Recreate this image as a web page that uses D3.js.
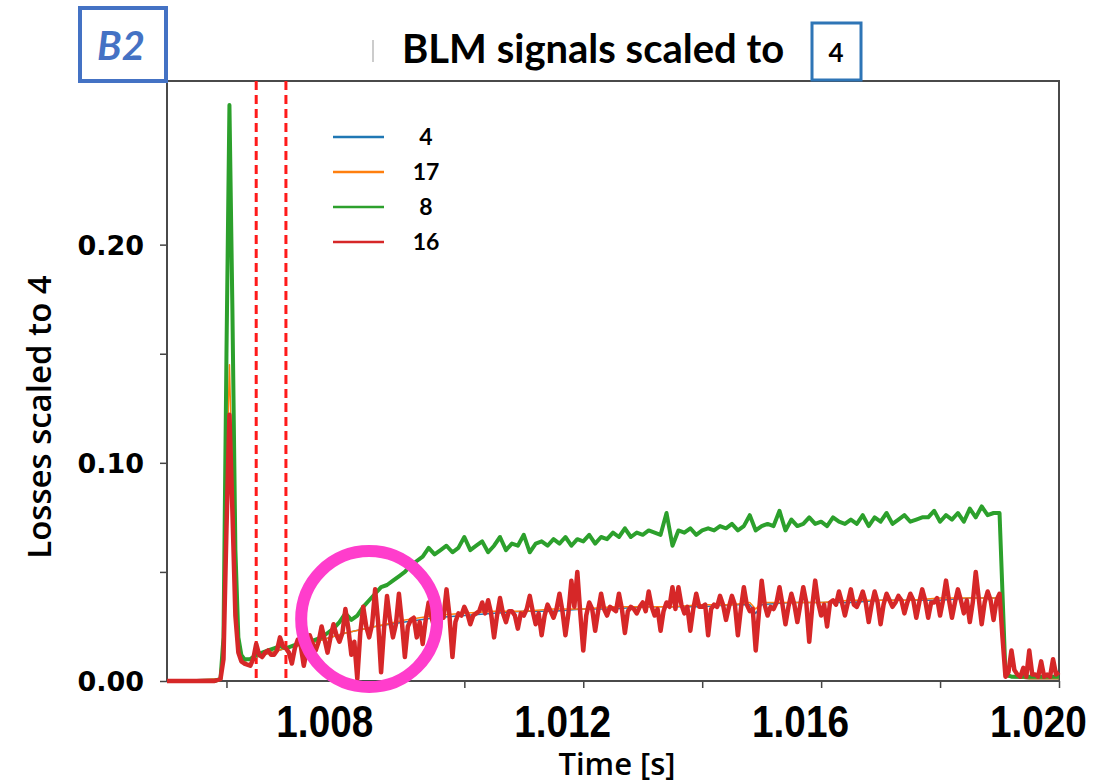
<!DOCTYPE html>
<html>
<head>
<meta charset="utf-8">
<script src="https://cdn.jsdelivr.net/npm/d3@7"></script>
<style>
  body { margin: 0; background: #fff; }
  svg { display: block; }
</style>
</head>
<body>
<div id="chart"></div>
<script>
// BLM signals, all scaled to monitor 4
const width = 1116;
const height = 784;

// monitor 8, sampled every 0.1 ms (finer around the injection spike)
const times = [
  1.0050, 1.0051, 1.0052, 1.0053, 1.0054, 1.0055, 1.0056, 1.0057, 1.0058, 1.0059,
  1.00595, 1.0060, 1.00605, 1.0061, 1.00615, 1.0062, 1.00625, 1.0063,
  1.0064, 1.0065, 1.0066, 1.0067, 1.0068, 1.0069, 1.0070, 1.0071, 1.0072, 1.0073,
  1.0074, 1.0075, 1.0076, 1.0077, 1.0078, 1.0079, 1.0080, 1.0081, 1.0082, 1.0083,
  1.0084, 1.0085, 1.0086, 1.0087, 1.0088, 1.0089, 1.0090, 1.0091, 1.0092, 1.0093,
  1.0094, 1.0095, 1.0096, 1.0097, 1.0098, 1.0099, 1.0100, 1.0101, 1.0102, 1.0103,
  1.0104, 1.0105, 1.0106, 1.0107, 1.0108, 1.0109, 1.0110, 1.0111, 1.0112, 1.0113,
  1.0114, 1.0115, 1.0116, 1.0117, 1.0118, 1.0119, 1.0120, 1.0121, 1.0122, 1.0123,
  1.0124, 1.0125, 1.0126, 1.0127, 1.0128, 1.0129, 1.0130, 1.0131, 1.0132, 1.0133,
  1.0134, 1.0135, 1.0136, 1.0137, 1.0138, 1.0139, 1.0140, 1.0141, 1.0142, 1.0143,
  1.0144, 1.0145, 1.0146, 1.0147, 1.0148, 1.0149, 1.0150, 1.0151, 1.0152, 1.0153,
  1.0154, 1.0155, 1.0156, 1.0157, 1.0158, 1.0159, 1.0160, 1.0161, 1.0162, 1.0163,
  1.0164, 1.0165, 1.0166, 1.0167, 1.0168, 1.0169, 1.0170, 1.0171, 1.0172, 1.0173,
  1.0174, 1.0175, 1.0176, 1.0177, 1.0178, 1.0179, 1.0180, 1.0181, 1.0182, 1.0183,
  1.0184, 1.0185, 1.0186, 1.0187, 1.0188, 1.0189, 1.0190, 1.0191, 1.0192, 1.0193,
  1.0194, 1.0195, 1.0196, 1.0197, 1.0198, 1.0199, 1.0200
];

const blm8 = [
  0, 0, 0, 0, 0, 0, 0, 0, 0, 0.001,
  0.020, 0.150, 0.264, 0.170, 0.060, 0.020, 0.012, 0.010,
  0.010, 0.012, 0.013, 0.014, 0.015, 0.016, 0.015, 0.016, 0.017, 0.017,
  0.018, 0.019, 0.020, 0.022, 0.024, 0.027, 0.031, 0.028, 0.030, 0.034,
  0.037, 0.040, 0.043, 0.044, 0.046, 0.048, 0.050, 0.053, 0.055, 0.057,
  0.061, 0.058, 0.060, 0.062, 0.059, 0.061, 0.066, 0.060, 0.062, 0.064,
  0.059, 0.062, 0.066, 0.060, 0.063, 0.062, 0.067, 0.059, 0.063, 0.064,
  0.062, 0.065, 0.063, 0.066, 0.062, 0.065, 0.064, 0.067, 0.063, 0.066,
  0.065, 0.068, 0.066, 0.070, 0.066, 0.068, 0.067, 0.069, 0.068, 0.067,
  0.077, 0.062, 0.069, 0.068, 0.070, 0.067, 0.069, 0.070, 0.069, 0.071,
  0.070, 0.072, 0.069, 0.071, 0.076, 0.069, 0.071, 0.072, 0.071, 0.078,
  0.069, 0.074, 0.071, 0.072, 0.075, 0.072, 0.073, 0.071, 0.075, 0.073,
  0.072, 0.074, 0.072, 0.076, 0.071, 0.075, 0.073, 0.077, 0.072, 0.074,
  0.076, 0.073, 0.074, 0.075, 0.075, 0.078, 0.073, 0.076, 0.074, 0.077,
  0.073, 0.079, 0.075, 0.080, 0.076, 0.077, 0.077, 0.003, 0.002, 0.002,
  0.002, 0.002, 0.002, 0.002, 0.002, 0.002, 0.002
];

// monitor 16, sampled every 0.05 ms after the spike
const fineTimes = [
  1.0050, 1.0051, 1.0052, 1.0053, 1.0054, 1.0055, 1.0056, 1.0057, 1.0058, 1.0059,
  1.00595, 1.0060, 1.00605, 1.0061, 1.00615, 1.0062, 1.00625, 1.0063,
  1.00640, 1.00645, 1.00650, 1.00655, 1.00660, 1.00665, 1.00670, 1.00675, 1.00680, 1.00685,
  1.00690, 1.00695, 1.00700, 1.00705, 1.00710, 1.00715, 1.00720, 1.00725, 1.00730, 1.00735,
  1.00740, 1.00745, 1.00750, 1.00755, 1.00760, 1.00765, 1.00770, 1.00775, 1.00780, 1.00785,
  1.00790, 1.00795, 1.00800, 1.00805, 1.00810, 1.00815, 1.00820, 1.00825, 1.00830, 1.00835,
  1.00840, 1.00845, 1.00850, 1.00855, 1.00860, 1.00865, 1.00870, 1.00875, 1.00880, 1.00885,
  1.00890, 1.00895, 1.00900, 1.00905, 1.00910, 1.00915, 1.00920, 1.00925, 1.00930, 1.00935,
  1.00940, 1.00945, 1.00950, 1.00955, 1.00960, 1.00965, 1.00970, 1.00975, 1.00980, 1.00985,
  1.00990, 1.00995, 1.01000, 1.01005, 1.01010, 1.01015, 1.01020, 1.01025, 1.01030, 1.01035,
  1.01040, 1.01045, 1.01050, 1.01055, 1.01060, 1.01065, 1.01070, 1.01075, 1.01080, 1.01085,
  1.01090, 1.01095, 1.01100, 1.01105, 1.01110, 1.01115, 1.01120, 1.01125, 1.01130, 1.01135,
  1.01140, 1.01145, 1.01150, 1.01155, 1.01160, 1.01165, 1.01170, 1.01175, 1.01180, 1.01185,
  1.01190, 1.01195, 1.01200, 1.01205, 1.01210, 1.01215, 1.01220, 1.01225, 1.01230, 1.01235,
  1.01240, 1.01245, 1.01250, 1.01255, 1.01260, 1.01265, 1.01270, 1.01275, 1.01280, 1.01285,
  1.01290, 1.01295, 1.01300, 1.01305, 1.01310, 1.01315, 1.01320, 1.01325, 1.01330, 1.01335,
  1.01340, 1.01345, 1.01350, 1.01355, 1.01360, 1.01365, 1.01370, 1.01375, 1.01380, 1.01385,
  1.01390, 1.01395, 1.01400, 1.01405, 1.01410, 1.01415, 1.01420, 1.01425, 1.01430, 1.01435,
  1.01440, 1.01445, 1.01450, 1.01455, 1.01460, 1.01465, 1.01470, 1.01475, 1.01480, 1.01485,
  1.01490, 1.01495, 1.01500, 1.01505, 1.01510, 1.01515, 1.01520, 1.01525, 1.01530, 1.01535,
  1.01540, 1.01545, 1.01550, 1.01555, 1.01560, 1.01565, 1.01570, 1.01575, 1.01580, 1.01585,
  1.01590, 1.01595, 1.01600, 1.01605, 1.01610, 1.01615, 1.01620, 1.01625, 1.01630, 1.01635,
  1.01640, 1.01645, 1.01650, 1.01655, 1.01660, 1.01665, 1.01670, 1.01675, 1.01680, 1.01685,
  1.01690, 1.01695, 1.01700, 1.01705, 1.01710, 1.01715, 1.01720, 1.01725, 1.01730, 1.01735,
  1.01740, 1.01745, 1.01750, 1.01755, 1.01760, 1.01765, 1.01770, 1.01775, 1.01780, 1.01785,
  1.01790, 1.01795, 1.01800, 1.01805, 1.01810, 1.01815, 1.01820, 1.01825, 1.01830, 1.01835,
  1.01840, 1.01845, 1.01850, 1.01855, 1.01860, 1.01865, 1.01870, 1.01875, 1.01880, 1.01885,
  1.01890, 1.01895, 1.01900, 1.01905, 1.01910, 1.01915, 1.01920, 1.01925, 1.01930, 1.01935,
  1.01940, 1.01945, 1.01950, 1.01955, 1.01960, 1.01965, 1.01970, 1.01975, 1.01980, 1.01985,
  1.01990, 1.01995, 1.02000
];

const blm16 = [
  0, 0, 0, 0, 0, 0, 0, 0, 0, 0.001,
  0.010, 0.070, 0.122, 0.078, 0.030, 0.013, 0.009, 0.008,
  0.007, 0.010, 0.017, 0.012, 0.011, 0.013, 0.014, 0.012, 0.012, 0.014,
  0.020, 0.016, 0.015, 0.013, 0.008, 0.015, 0.019, 0.016, 0.007, 0.014,
  0.021, 0.017, 0.014, 0.018, 0.025, 0.019, 0.013, 0.020, 0.026, 0.021,
  0.018, 0.022, 0.033, 0.024, 0.012, 0.018, 0.001, 0.022, 0.034, 0.025,
  0.020, 0.026, 0.042, 0.027, 0.004, 0.024, 0.039, 0.028, 0.020, 0.026,
  0.040, 0.027, 0.011, 0.025, 0.028, 0.029, 0.020, 0.027, 0.017, 0.028,
  0.036, 0.029, 0.024, 0.030, 0.030, 0.029, 0.042, 0.030, 0.011, 0.027,
  0.031, 0.030, 0.034, 0.031, 0.026, 0.030, 0.031, 0.032, 0.036, 0.031,
  0.037, 0.031, 0.020, 0.030, 0.038, 0.031, 0.027, 0.032, 0.032, 0.030,
  0.024, 0.031, 0.030, 0.033, 0.039, 0.032, 0.026, 0.031, 0.021, 0.030,
  0.035, 0.032, 0.029, 0.033, 0.040, 0.032, 0.021, 0.031, 0.046, 0.034,
  0.050, 0.031, 0.014, 0.030, 0.036, 0.033, 0.023, 0.032, 0.040, 0.033,
  0.030, 0.034, 0.033, 0.032, 0.040, 0.033, 0.022, 0.032, 0.034, 0.033,
  0.031, 0.034, 0.036, 0.032, 0.041, 0.034, 0.030, 0.033, 0.023, 0.032,
  0.036, 0.034, 0.043, 0.033, 0.043, 0.035, 0.031, 0.034, 0.023, 0.033,
  0.040, 0.034, 0.034, 0.035, 0.021, 0.033, 0.035, 0.034, 0.039, 0.035,
  0.028, 0.034, 0.039, 0.035, 0.021, 0.033, 0.043, 0.035, 0.032, 0.033,
  0.014, 0.030, 0.046, 0.035, 0.030, 0.034, 0.033, 0.036, 0.043, 0.035,
  0.026, 0.034, 0.040, 0.035, 0.027, 0.035, 0.043, 0.036, 0.018, 0.034,
  0.046, 0.036, 0.030, 0.035, 0.025, 0.036, 0.037, 0.035, 0.041, 0.036,
  0.030, 0.036, 0.042, 0.035, 0.034, 0.037, 0.041, 0.036, 0.027, 0.035,
  0.041, 0.036, 0.026, 0.035, 0.040, 0.037, 0.034, 0.036, 0.039, 0.037,
  0.031, 0.036, 0.040, 0.037, 0.029, 0.036, 0.042, 0.037, 0.029, 0.036,
  0.036, 0.038, 0.030, 0.037, 0.046, 0.037, 0.029, 0.036, 0.042, 0.037,
  0.031, 0.037, 0.027, 0.036, 0.050, 0.038, 0.026, 0.036, 0.041, 0.037,
  0.028, 0.037, 0.040, 0.020, 0.002, 0.004, 0.014, 0.005, 0.003, 0.002,
  0.006, 0.002, 0.014, 0.003, 0.003, 0.002, 0.009, 0.002, 0.003, 0.002,
  0.010, 0.003, 0.004
];

// monitors 4 and 17 are mostly hidden under 16, sampled coarser
const refTimes = [
  1.0050, 1.0059, 1.00595, 1.0060, 1.00605, 1.0061, 1.00615, 1.0062, 1.0063, 1.0065,
  1.0070, 1.0075, 1.0080, 1.0085, 1.0090, 1.0095, 1.0100, 1.0105, 1.0110, 1.0115,
  1.0120, 1.0125, 1.0130, 1.0135, 1.0140, 1.0145, 1.0148, 1.0149, 1.0150, 1.0155,
  1.0160, 1.0165, 1.0170, 1.0175, 1.0180, 1.0185, 1.0190, 1.0191, 1.0195, 1.0200
];
const blm4 = [
  0, 0.001, 0.015, 0.140, 0.224, 0.160, 0.040, 0.015, 0.009, 0.011,
  0.015, 0.018, 0.022, 0.025, 0.027, 0.029, 0.030, 0.031, 0.032, 0.032,
  0.033, 0.033, 0.034, 0.034, 0.034, 0.035, 0.035, 0.031, 0.035, 0.036,
  0.036, 0.036, 0.037, 0.037, 0.037, 0.038, 0.038, 0.002, 0.001, 0.001
];
const blm17 = [
  0, 0.001, 0.012, 0.090, 0.145, 0.090, 0.035, 0.014, 0.009, 0.011,
  0.015, 0.018, 0.022, 0.025, 0.028, 0.030, 0.031, 0.032, 0.032, 0.033,
  0.033, 0.034, 0.034, 0.034, 0.035, 0.035, 0.036, 0.033, 0.036, 0.036,
  0.036, 0.037, 0.037, 0.037, 0.038, 0.038, 0.038, 0.002, 0.001, 0.001
];

const series = [
  { name: "4", t: refTimes, v: blm4, color: "#1f77b4", w: 1.5 },
  { name: "17", t: refTimes, v: blm17, color: "#ff7f0e", w: 1.5 },
  { name: "8", t: times, v: blm8, color: "#2ca02c", w: 4 },
  { name: "16", t: fineTimes, v: blm16, color: "#d62728", w: 4.5 }
];

const xTicks = [1.006, 1.008, 1.010, 1.012, 1.014, 1.016, 1.018, 1.020];
const xLabels = [1.008, 1.012, 1.016, 1.020];
const yTicks = [0, 0.05, 0.10, 0.15, 0.20];
const yLabels = [0, 0.10, 0.20];
const markerTimes = [1.0065, 1.0070];
const circleAt = { t: 1.0084, v: 0.0284 };

const margin = { top: 81, right: 57, bottom: 103, left: 167 };

const svg = d3.select("#chart").append("svg")
  .attr("width", width)
  .attr("height", height);

const x = d3.scaleLinear().domain([1.005, 1.020]).range([margin.left, width - margin.right]);
const y = d3.scaleLinear().domain([0, 0.275]).range([height - margin.bottom, margin.top]);

// axes
const xAxis = d3.axisBottom(x)
  .tickValues(xTicks)
  .tickSize(7)
  .tickFormat(d => xLabels.some(l => Math.abs(l - d) < 1e-9) ? d3.format(".3f")(d) : "");

const yAxis = d3.axisLeft(y)
  .tickValues(yTicks)
  .tickSize(7)
  .tickPadding(16)
  .tickFormat(d => yLabels.some(l => Math.abs(l - d) < 1e-9) ? d3.format(".2f")(d) : "");

const gx = svg.append("g")
  .attr("transform", "translate(0," + y(0) + ")")
  .call(xAxis);
gx.select(".domain").remove();
gx.selectAll(".tick line").attr("stroke", "#444").attr("stroke-width", 1.5);
// labels in the picture are tall and narrow, squeeze them a little
gx.selectAll(".tick text")
  .attr("transform", "scale(0.88,1)")
  .attr("dx", -24)
  .attr("dy", "1.05em")
  .style("font-family", "'Liberation Sans', Arial, sans-serif")
  .style("font-weight", "bold")
  .style("font-size", "44px")
  .attr("fill", "#000");

const gy = svg.append("g")
  .attr("transform", "translate(" + x(1.005) + ",0)")
  .call(yAxis);
gy.select(".domain").remove();
gy.selectAll(".tick line").attr("stroke", "#444").attr("stroke-width", 1.5);
gy.selectAll(".tick text")
  .attr("dy", "0.36em")
  .style("font-family", "'DejaVu Sans', sans-serif")
  .style("font-weight", "bold")
  .style("font-size", "27px")
  .attr("fill", "#000");

// plot frame
svg.append("rect")
  .attr("x", x(1.005))
  .attr("y", y(0.275))
  .attr("width", x(1.020) - x(1.005))
  .attr("height", y(0) - y(0.275))
  .attr("fill", "none")
  .attr("stroke", "#4a4a4a")
  .attr("stroke-width", 2);

// dashed markers
svg.selectAll(".marker")
  .data(markerTimes)
  .enter()
  .append("line")
  .attr("class", "marker")
  .attr("x1", d => x(d))
  .attr("x2", d => x(d))
  .attr("y1", y(0.275))
  .attr("y2", y(0))
  .attr("stroke", "#ff1a1a")
  .attr("stroke-width", 3)
  .attr("stroke-dasharray", "9,5");

// signal lines
const line = d3.line()
  .x(d => x(d[0]))
  .y(d => y(d[1]));

svg.selectAll(".signal")
  .data(series)
  .enter()
  .append("path")
  .attr("class", "signal")
  .attr("d", s => line(s.t.map((t, i) => [t, s.v[i]])))
  .attr("fill", "none")
  .attr("stroke", s => s.color)
  .attr("stroke-width", s => s.w)
  .attr("stroke-linejoin", "round");

// legend
const legend = svg.append("g").attr("transform", "translate(333,137)");
legend.selectAll("line")
  .data(series)
  .enter()
  .append("line")
  .attr("x1", 0)
  .attr("x2", 51)
  .attr("y1", (d, i) => i * 35)
  .attr("y2", (d, i) => i * 35)
  .attr("stroke", d => d.color)
  .attr("stroke-width", 2.5);
legend.selectAll("text")
  .data(series)
  .enter()
  .append("text")
  .attr("x", 93)
  .attr("y", (d, i) => i * 35 + 8)
  .attr("text-anchor", "middle")
  .style("font-family", "Lato, sans-serif")
  .style("font-weight", "bold")
  .style("font-size", "23px")
  .text(d => d.name);

// highlight circle
svg.append("circle")
  .attr("cx", x(circleAt.t))
  .attr("cy", y(circleAt.v))
  .attr("r", 68)
  .attr("fill", "none")
  .attr("stroke", "#ff3dcc")
  .attr("stroke-width", 12);

// axis titles
svg.append("text")
  .attr("x", 617)
  .attr("y", 775)
  .attr("text-anchor", "middle")
  .style("font-family", "'Open Sans', sans-serif")
  .style("font-weight", 600)
  .style("font-size", "31px")
  .text("Time [s]");

svg.append("text")
  .attr("transform", "translate(51,417) rotate(-90)")
  .attr("text-anchor", "middle")
  .style("font-family", "'Open Sans', sans-serif")
  .style("font-weight", 600)
  .style("font-size", "33px")
  .text("Losses scaled to 4");

// title and label boxes
svg.append("line")
  .attr("x1", 373).attr("x2", 373)
  .attr("y1", 40).attr("y2", 62)
  .attr("stroke", "#bbb")
  .attr("stroke-width", 1.5);

svg.append("text")
  .attr("x", 402)
  .attr("y", 63)
  .style("font-family", "Lato, sans-serif")
  .style("font-weight", "bold")
  .style("font-size", "40px")
  .text("BLM signals scaled to");

svg.append("rect")
  .attr("x", 812).attr("y", 23)
  .attr("width", 49).attr("height", 57)
  .attr("fill", "#fff")
  .attr("stroke", "#2e75b6")
  .attr("stroke-width", 3);
svg.append("text")
  .attr("x", 836)
  .attr("y", 62)
  .attr("text-anchor", "middle")
  .style("font-family", "Lato, sans-serif")
  .style("font-weight", "bold")
  .style("font-size", "26px")
  .text("4");

svg.append("rect")
  .attr("x", 80).attr("y", 8)
  .attr("width", 86).attr("height", 73)
  .attr("fill", "#fff")
  .attr("stroke", "#4472c4")
  .attr("stroke-width", 4);
svg.append("text")
  .attr("x", 121)
  .attr("y", 60)
  .attr("text-anchor", "middle")
  .style("font-family", "Lato, sans-serif")
  .style("font-weight", "bold")
  .style("font-style", "italic")
  .style("font-size", "40px")
  .attr("fill", "#4472c4")
  .text("B2");
</script>
</body>
</html>
